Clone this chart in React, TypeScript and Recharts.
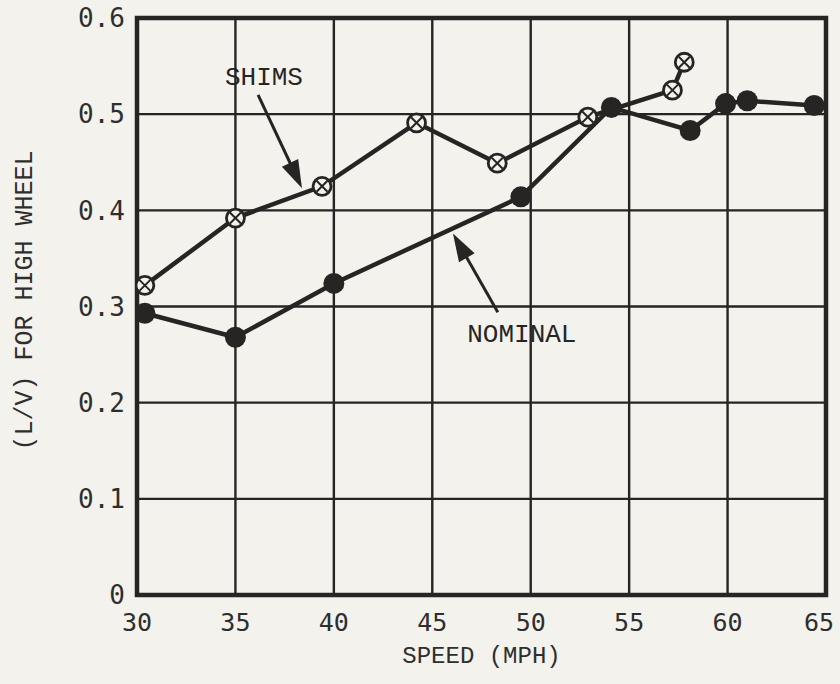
import React from 'react';
import { LineChart, Line, XAxis, YAxis, CartesianGrid, ReferenceArea, ReferenceLine, ReferenceDot } from 'recharts';

const xTicks = [30, 35, 40, 45, 50, 55, 60, 65];
const yTicks = [0, 0.1, 0.2, 0.3, 0.4, 0.5, 0.6];

const shimsSpeed = [30.4, 35.0, 39.4, 44.2, 48.3, 52.9, 57.2, 57.8];
const shimsLV = [0.322, 0.392, 0.425, 0.491, 0.449, 0.497, 0.525, 0.554];

const nominalSpeed = [30.4, 35.0, 40.0, 49.5, 54.1, 58.1, 59.9, 61.0, 64.4];
const nominalLV = [0.293, 0.268, 0.324, 0.414, 0.507, 0.483, 0.511, 0.514, 0.509];

const shimsData = shimsSpeed.map((s, i) => ({ speed: s, lv: shimsLV[i] }));
const nominalData = nominalSpeed.map((s, i) => ({ speed: s, lv: nominalLV[i] }));

const INK = '#262524';
const PAPER = '#f3f2ed';
const TICK_FONT = '"DejaVu Sans Mono", monospace';
const TEXT_FONT = '"Liberation Mono", "DejaVu Sans Mono", monospace';

const ShimsDot = (p: any) => {
  const { cx, cy } = p;
  if (cx == null || cy == null) return null;
  const d = 5.5;
  return (
    <g>
      <circle cx={cx} cy={cy} r={9} fill={PAPER} stroke={INK} strokeWidth={2.8} />
      <line x1={cx - d} y1={cy - d} x2={cx + d} y2={cy + d} stroke={INK} strokeWidth={2} />
      <line x1={cx - d} y1={cy + d} x2={cx + d} y2={cy - d} stroke={INK} strokeWidth={2} />
    </g>
  );
};

const NominalDot = (p: any) => {
  const { cx, cy } = p;
  if (cx == null || cy == null) return null;
  return <circle cx={cx} cy={cy} r={10.5} fill={INK} stroke="none" />;
};

const Arrow = (p: any) => {
  const { x1, y1, x2, y2 } = p;
  const dx = x2 - x1;
  const dy = y2 - y1;
  const len = Math.sqrt(dx * dx + dy * dy) || 1;
  const ux = dx / len;
  const uy = dy / len;
  const hl = 28;
  const hw = 9;
  const bx = x2 - ux * hl;
  const by = y2 - uy * hl;
  const px = -uy;
  const py = ux;
  return (
    <g>
      <line x1={x1} y1={y1} x2={bx + ux * 4} y2={by + uy * 4} stroke={INK} strokeWidth={3} />
      <polygon
        points={`${x2},${y2} ${bx + px * hw},${by + py * hw} ${bx - px * hw},${by - py * hw}`}
        fill={INK}
      />
    </g>
  );
};

const textLabel = (txt: string) => (p: any) => (
  <text
    x={p.cx}
    y={p.cy}
    textAnchor="middle"
    dominantBaseline="central"
    fontFamily={TEXT_FONT}
    fontSize={26}
    fill={INK}
  >
    {txt}
  </text>
);

const XTick = (p: any) => {
  const { x, y, payload } = p;
  const v = payload.value;
  const shift = v === 65 ? -7 : 0;
  return (
    <text
      x={x + shift}
      y={y}
      dy="0.71em"
      textAnchor="middle"
      fontFamily={TICK_FONT}
      fontSize={25}
      fill="#2e2e2e"
    >
      {String(v)}
    </text>
  );
};

export default function App() {
  return (
    <div style={{ position: 'fixed', left: 0, top: 0, width: 840, height: 684, background: PAPER }}>
      <LineChart
        width={840}
        height={684}
        margin={{ top: 18, right: 14, bottom: 0, left: 0 }}
      >
        <CartesianGrid stroke={INK} strokeWidth={2.4} />
        <XAxis
          type="number"
          dataKey="speed"
          domain={[30, 65]}
          ticks={xTicks}
          allowDataOverflow
          height={89}
          axisLine={false}
          tickLine={false}
          tickSize={0}
          tickMargin={18}
          tick={<XTick />}
          label={{
            content: (props: any) => {
              const vb = props.viewBox;
              return (
                <text
                  x={vb.x + vb.width / 2}
                  y={vb.y + 61}
                  textAnchor="middle"
                  dominantBaseline="central"
                  fontFamily={TEXT_FONT}
                  fontSize={24}
                  fill="#2e2e2e"
                >
                  SPEED (MPH)
                </text>
              );
            },
          }}
        />
        <YAxis
          type="number"
          dataKey="lv"
          domain={[0, 0.6]}
          ticks={yTicks}
          allowDataOverflow
          width={137}
          axisLine={false}
          tickLine={false}
          tickSize={0}
          tickMargin={12}
          tickFormatter={(v: number) => (v === 0 ? '0' : v.toFixed(1))}
          tick={{ fill: '#2e2e2e', fontSize: 26, fontFamily: TICK_FONT }}
          label={{
            content: (props: any) => {
              const vb = props.viewBox;
              const cx = vb.x + 25;
              const cy = vb.y + vb.height / 2 - 6;
              return (
                <text
                  x={cx}
                  y={cy}
                  textAnchor="middle"
                  dominantBaseline="central"
                  fontFamily={TEXT_FONT}
                  fontSize={25}
                  fill="#2e2e2e"
                  transform={`rotate(-90 ${cx} ${cy})`}
                >
                  (L/V) FOR HIGH WHEEL
                </text>
              );
            },
          }}
        />
        <ReferenceArea
          x1={30}
          x2={65}
          y1={0}
          y2={0.6}
          fill="none"
          stroke={INK}
          strokeWidth={4.5}
          fillOpacity={0}
        />
        <ReferenceLine
          segment={[{ x: 36.15, y: 0.52 }, { x: 38.38, y: 0.423 }]}
          shape={Arrow}
        />
        <ReferenceLine
          segment={[{ x: 48.33, y: 0.294 }, { x: 46.05, y: 0.376 }]}
          shape={Arrow}
        />
        <ReferenceDot x={36.45} y={0.538} r={0} shape={textLabel('SHIMS')} />
        <ReferenceDot x={49.55} y={0.27} r={0} shape={textLabel('NOMINAL')} />
        <Line
          data={shimsData}
          dataKey="lv"
          type="linear"
          stroke={INK}
          strokeWidth={4.5}
          dot={<ShimsDot />}
          activeDot={false}
          isAnimationActive={false}
        />
        <Line
          data={nominalData}
          dataKey="lv"
          type="linear"
          stroke={INK}
          strokeWidth={4.5}
          dot={<NominalDot />}
          activeDot={false}
          isAnimationActive={false}
        />
      </LineChart>
    </div>
  );
}
